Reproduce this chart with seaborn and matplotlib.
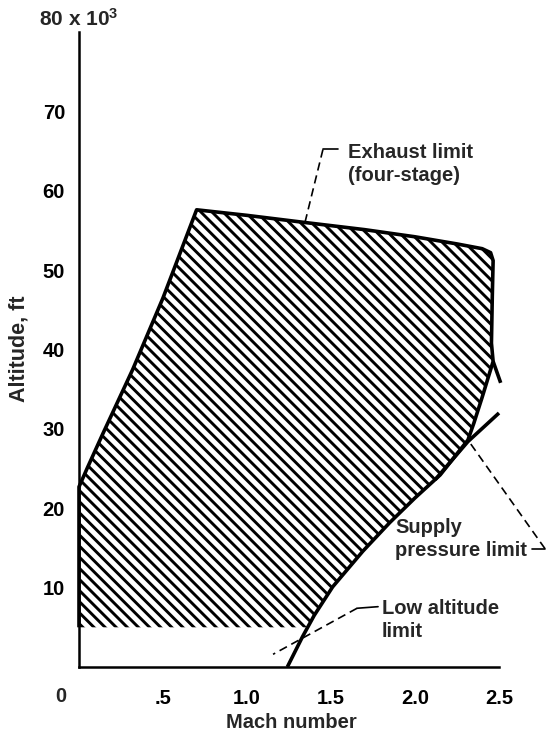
import numpy as np
import matplotlib
matplotlib.use("Agg")
import matplotlib.pyplot as plt
import seaborn as sns

# Operating envelope (Mach number, altitude in 1000 ft)
left_mach = [0.0, 0.0, 0.05, 0.14, 0.32, 0.50, 0.70]
left_alt = [5.0, 22.7, 25.1, 29.3, 37.5, 46.5, 57.6]

top_mach = [0.70, 1.0, 1.345, 1.7, 2.0, 2.25, 2.40, 2.45, 2.465]
top_alt = [57.6, 56.9, 56.0, 55.1, 54.2, 53.3, 52.7, 52.2, 51.2]

# exhaust limit, right hand side (last point is the stub past the envelope)
right_mach = [2.465, 2.46, 2.455, 2.465, 2.51]
right_alt = [51.2, 46.6, 40.8, 38.5, 35.8]

inner_mach = [2.465, 2.40, 2.35, 2.315]
inner_alt = [38.5, 34.0, 30.7, 28.6]

# low altitude limit
low_mach = [2.315, 2.15, 2.0, 1.85, 1.69, 1.51, 1.40, 1.33, 1.24]
low_alt = [28.6, 24.2, 21.3, 18.2, 14.6, 10.1, 6.5, 3.8, 0.0]

# supply pressure limit
supply_mach = [2.12, 2.315, 2.50]
supply_alt = [23.6, 28.4, 32.0]

hatch_floor = 5.0

x_ticks = [0.5, 1.0, 1.5, 2.0, 2.5]
x_labels = ['.5', '1.0', '1.5', '2.0', '2.5']
y_ticks = [10, 20, 30, 40, 50, 60, 70, 80]
y_labels = ['10', '20', '30', '40', '50', '60', '70', '']

#############################

sns.set_style('white')
plt.rcParams['font.family'] = ['Liberation Sans', 'DejaVu Sans']
plt.rcParams['font.weight'] = 'bold'
plt.rcParams['font.size'] = 14.5
plt.rcParams['hatch.linewidth'] = 2.1
plt.rcParams['mathtext.fontset'] = 'custom'
plt.rcParams['mathtext.rm'] = 'Liberation Sans:bold'
plt.rcParams['mathtext.it'] = 'Liberation Sans:bold'
plt.rcParams['mathtext.bf'] = 'Liberation Sans:bold'

fig = plt.figure(figsize=(5.46, 7.34), dpi=100)
ax = fig.add_axes([79 / 546, 67 / 734, 420 / 546, 635 / 734])
ax.set_xlim(0, 2.5)
ax.set_ylim(0, 80)

# hatched region: cut the low altitude curve where the hatch stops
cut_mach = np.interp(hatch_floor, low_alt[::-1], low_mach[::-1])
keep = [i for i, a in enumerate(low_alt) if a > hatch_floor]
poly_mach = (left_mach + top_mach[1:] + right_mach[1:4] + inner_mach[1:]
             + [low_mach[i] for i in keep[1:]] + [cut_mach, 0.0])
poly_alt = (left_alt + top_alt[1:] + right_alt[1:4] + inner_alt[1:]
            + [low_alt[i] for i in keep[1:]] + [hatch_floor, hatch_floor])
ax.fill(poly_mach, poly_alt, facecolor='white', edgecolor='black',
        hatch='\\\\\\', linewidth=0)

# thick boundary lines
edge_mach = left_mach + top_mach[1:] + right_mach[1:4] + inner_mach[1:] + low_mach[1:]
edge_alt = left_alt + top_alt[1:] + right_alt[1:4] + inner_alt[1:] + low_alt[1:]
line_kw = dict(color='black', linewidth=2.6, sort=False, estimator=None,
               clip_on=False, solid_joinstyle='round', solid_capstyle='butt')
sns.lineplot(x=edge_mach, y=edge_alt, ax=ax, **line_kw)
sns.lineplot(x=right_mach[3:], y=right_alt[3:], ax=ax, **line_kw)
sns.lineplot(x=supply_mach, y=supply_alt, ax=ax, **line_kw)

# leaders
dash = dict(color='black', linewidth=1.2, linestyle=(0, (5, 3)), clip_on=False)
solid = dict(color='black', linewidth=1.2, clip_on=False)

ax.plot([1.452, 1.345], [65.2, 56.0], **dash)
ax.plot([1.452, 1.542], [65.2, 65.2], **solid)
ax.text(1.60, 63.4, 'Exhaust limit\n(four-stage)', ha='left', va='center',
        linespacing=1.3)

ax.plot([2.774, 2.315], [14.9, 28.6], **dash)
ax.plot([2.696, 2.774], [14.9, 14.9], **solid)
ax.text(1.881, 16.1, 'Supply\npressure limit', ha='left', va='center',
        linespacing=1.3)

ax.plot([1.655, 1.155], [7.4, 1.6], **dash)
ax.plot([1.655, 1.78], [7.4, 7.6], **solid)
ax.text(1.804, 5.9, 'Low altitude\nlimit', ha='left', va='center',
        linespacing=1.3)

# axes styling
for side in ['top', 'right']:
    ax.spines[side].set_visible(False)
for side in ['left', 'bottom']:
    ax.spines[side].set_linewidth(1.8)
    ax.spines[side].set_color('black')

ax.set_xticks(x_ticks)
ax.set_xticklabels(x_labels)
ax.set_yticks(y_ticks)
ax.set_yticklabels(y_labels)
ax.tick_params(axis='both', direction='in', length=17, width=1.5,
               colors='black', labelsize=14.5)
ax.tick_params(axis='x', pad=16)
ax.tick_params(axis='y', pad=10)

ax.text(0.0, 81.6, r'80 x 10$^{3}$', ha='center', va='center', fontsize=15)
fig.text(61 / 546, 1 - 696 / 734, '0', ha='center', va='center')
fig.text(291 / 546, 1 - 722 / 734, 'Mach number', ha='center', va='center')
fig.text(19 / 546, 1 - 349 / 734, 'Altitude, ft', ha='center', va='center',
         rotation=90, fontsize=15.5)

fig.savefig('out.png', dpi=100)
